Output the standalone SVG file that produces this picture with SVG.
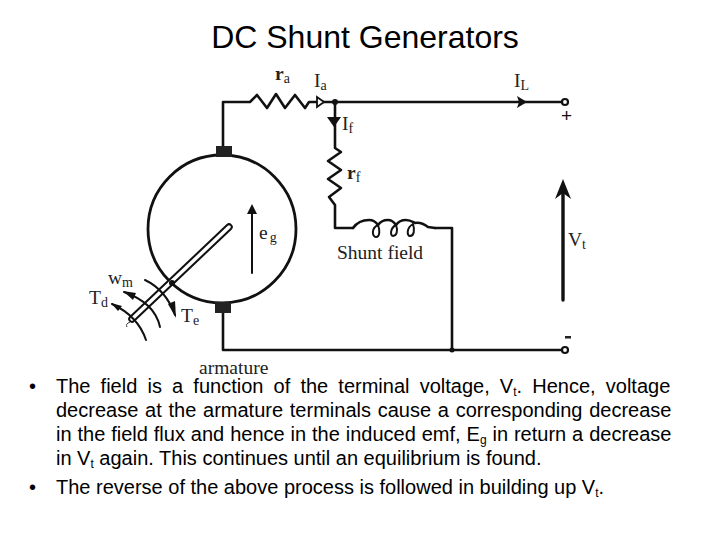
<svg xmlns="http://www.w3.org/2000/svg" width="720" height="540" viewBox="0 0 720 540">
<style>
.w{fill:none;stroke:#111;stroke-width:2.6;stroke-linejoin:round;stroke-linecap:round}
.t{fill:none;stroke:#111;stroke-width:2;stroke-linecap:round}
.a{fill:#111;stroke:none}
.s{font-family:"Liberation Serif",serif;fill:#222;font-size:19.5px}
.ss{font-size:14px}
.b{font-family:"Liberation Sans",Arial,sans-serif;fill:#000;font-size:20px}
.u{font-size:12px}
</style>
<rect width="720" height="540" fill="#fff"/>
<text id="title" x="365" y="48" text-anchor="middle" font-family="Liberation Sans,Arial,sans-serif" font-size="32" fill="#000">DC Shunt Generators</text>
<g id="connectors">
<path class="w" d="M223 146V102H250L257 95L267 108L276 94L285 108L295 95L305 108L309 102H565"/>
<path class="w" d="M335 102V148L341 152L328 161L341 170L328 179L341 188L329 197L335 205V228H353"/>
<path class="w" d="M435 228H452V350"/>
<path class="w" d="M223 313V350H562"/>
<path class="w" style="stroke-width:3.4" d="M563 300V192"/>
<path class="w" style="stroke-width:2" d="M252 273V212"/>
<polygon points="324,102 317,97 317,107" style="fill:#fff;stroke:#111;stroke-width:1.8"/>
<polygon class="a" points="334,127 327,117 341,117"/>
<polygon class="a" points="527,102 517,96 519,102 517,108"/>
<polygon class="a" points="563,179 555,199 563,193 571,199"/>
<polygon class="a" points="252,204 247,214 257,214"/>
</g>
<g id="junction"><circle cx="335" cy="102" r="3" fill="#111"/></g>
<g id="terminal-plus"><circle cx="565" cy="102" r="3" fill="#fff" stroke="#111" stroke-width="2.2"/></g>
<g id="terminal-minus"><circle cx="565" cy="350" r="3" fill="#fff" stroke="#111" stroke-width="2.2"/></g>
<g id="junction-low"><circle cx="452" cy="350" r="2.5" fill="#111"/></g>
<g id="armature">
<circle cx="222" cy="229" r="74" fill="none" stroke="#111" stroke-width="2.8"/>
<rect x="216" y="146" width="16" height="11" fill="#222"/>
<rect x="215" y="302" width="16" height="11" fill="#222"/>
<path d="M229 227L132 319" fill="none" stroke="#111" stroke-width="7.5" stroke-linecap="round"/>
<path d="M229 227L132 319" fill="none" stroke="#fff" stroke-width="3.4" stroke-linecap="round"/>
<circle cx="172" cy="283" r="3" fill="#111"/>
<path class="t" d="M124 292Q155 303 160 327"/>
<polygon class="a" points="123,291 136,293 133,300"/>
<path class="t" d="M112 304Q138 316 146 340"/>
<polygon class="a" points="111,303 122,306 118,311"/>
<path class="t" d="M145 280Q166 290 175 315"/>
<polygon class="a" points="176,318 168,304 175,301"/>
<path d="M130 322Q125 324 127 327" fill="none" stroke="#333" stroke-width="1"/>
</g>
<g id="field-coil">
<path class="w" d="M353 228C358 221 364 220 369 220C373 220 376 222 378 225C380 222 384 220 388 220C391 220 394 222 396 225C398 222 402 220 406 220C410 220 413 222 415 223C420 222 424 224 428 227L435 228"/>
<path class="w" style="stroke-width:2" d="M378 225C371 228 372 237 376 237C380 237 380 230 378 225M396 225C390 228 390 236 393 236C397 236 398 230 396 225M413 224C406 228 407 236 410 236C414 236 415 230 413 224"/>
</g>
<g id="labels">
<text class="s" x="275" y="80" font-weight="bold">r<tspan class="ss" dy="3" font-weight="normal">a</tspan></text>
<text class="s" x="314" y="87">I<tspan class="ss" dy="3">a</tspan></text>
<text class="s" x="514" y="87">I<tspan class="ss" dy="3">L</tspan></text>
<text class="s" x="342" y="130">I<tspan class="ss" dy="3">f</tspan></text>
<text class="s" x="347" y="179" font-weight="bold">r<tspan class="ss" dy="3" font-weight="normal">f</tspan></text>
<text class="s" x="259" y="239">e<tspan class="ss" dx="2" dy="3">g</tspan></text>
<text class="s" x="337" y="259">Shunt field</text>
<text class="s" x="568" y="246">V<tspan class="ss" dy="3">t</tspan></text>
<text class="s" x="108" y="284">w<tspan class="ss" dy="3">m</tspan></text>
<text class="s" x="89" y="304">T<tspan class="ss" dy="3">d</tspan></text>
<text class="s" x="181" y="322">T<tspan class="ss" dy="3">e</tspan></text>
<text class="s" x="199" y="374">armature</text>
<text font-family="Liberation Sans,Arial,sans-serif" font-size="19" x="561" y="122" fill="#111">+</text>
<rect x="565" y="336" width="6" height="2.5" fill="#222"/>
</g>
<g id="body">
<text class="b" x="29" y="393">•</text>
<text class="b" x="56" y="393" word-spacing="4.6">The field is a function of the terminal voltage, V<tspan class="u" dy="3">t</tspan><tspan dy="-3">. Hence, voltage</tspan></text>
<text class="b" x="56" y="417" word-spacing="1.2">decrease at the armature terminals cause a corresponding decrease</text>
<text class="b" x="56" y="441" word-spacing="0.36">in the field flux and hence in the induced emf, E<tspan class="u" dy="3">g</tspan><tspan dy="-3"> in return a decrease</tspan></text>
<text class="b" x="56" y="465">in V<tspan class="u" dy="3">t</tspan><tspan dy="-3"> again. This continues until an equilibrium is found.</tspan></text>
<text class="b" x="29" y="494">•</text>
<text class="b" x="56" y="494">The reverse of the above process is followed in building up V<tspan class="u" dy="3">t</tspan><tspan dy="-3">.</tspan></text>
</g>
</svg>
